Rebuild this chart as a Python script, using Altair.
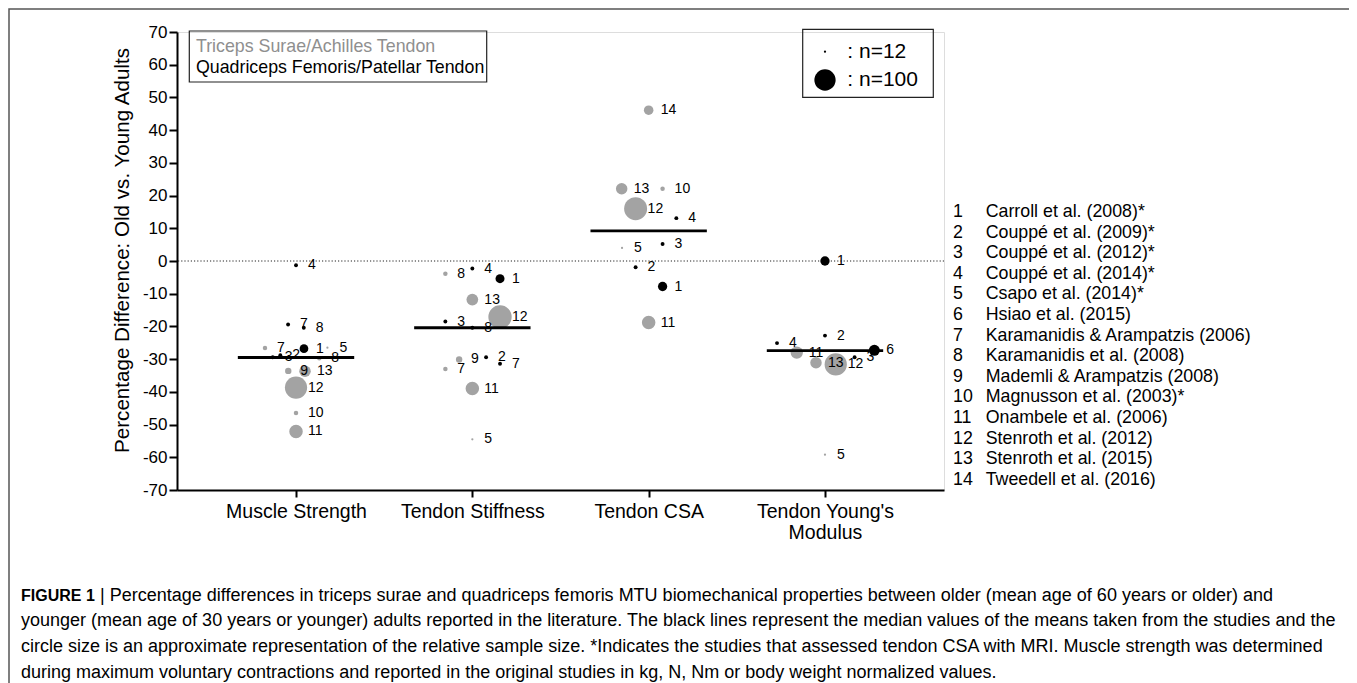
import json
import altair as alt
import pandas as pd

# ---------------- data ----------------
measures = ["Muscle Strength", "Tendon Stiffness", "Tendon CSA", "Tendon Young's Modulus"]
axis_labels = ["Muscle Strength", "Tendon Stiffness", "Tendon CSA", ["Tendon Young's", "Modulus"]]

studies = [
    "Carroll et al. (2008)*", "Couppé et al. (2009)*", "Couppé et al. (2012)*",
    "Couppé et al. (2014)*", "Csapo et al. (2014)*", "Hsiao et al. (2015)",
    "Karamanidis & Arampatzis (2006)", "Karamanidis et al. (2008)",
    "Mademli & Arampatzis (2008)", "Magnusson et al. (2003)*", "Onambele et al. (2006)",
    "Stenroth et al. (2012)", "Stenroth et al. (2015)", "Tweedell et al. (2016)",
]

T = "Triceps Surae/Achilles Tendon"
Q = "Quadriceps Femoris/Patellar Tendon"
groups = [T, Q]

# Muscle strength
ms_study = [4, 7, 8, 7, 1, 5, 3, 2, 8, 9, 13, 12, 10, 11]
ms_group = [Q, Q, Q, T, Q, T, Q, Q, T, T, T, T, T, T]
ms_diff = [-1.3, -19.4, -20.4, -26.6, -26.8, -26.5, -29.4, -28.8, -29.7, -33.6, -33.7, -38.7, -46.5, -52.1]
ms_jitter = [0, -0.045, 0.044, -0.176, 0.045, 0.178, -0.132, -0.089, 0.132, -0.044, 0.051, 0, 0, 0]
ms_n = [14, 14, 14, 15, 26, 12, 14, 14, 15, 19, 37, 108, 15, 47]

# Tendon stiffness
ts_study = [8, 4, 1, 13, 12, 3, 8, 9, 2, 7, 7, 11, 5]
ts_group = [T, Q, Q, T, T, Q, Q, T, Q, Q, T, T, T]
ts_diff = [-3.9, -2.3, -5.4, -11.8, -17.1, -18.5, -20.4, -30.1, -29.4, -31.4, -33.0, -39.0, -54.5]
ts_jitter = [-0.153, 0, 0.157, 0, 0.157, -0.153, 0, -0.075, 0.078, 0.157, -0.153, 0, 0]
ts_n = [15, 14, 27, 38, 118, 14, 14, 19, 14, 14, 15, 47, 12]

# Tendon CSA
csa_study = [14, 13, 10, 12, 4, 5, 3, 2, 1, 11]
csa_group = [T, T, T, T, Q, T, Q, Q, Q, T]
csa_diff = [46.1, 22.1, 22.1, 16.0, 13.1, 4.0, 5.2, -1.9, -7.8, -18.8]
csa_jitter = [0, -0.153, 0.079, -0.074, 0.157, -0.151, 0.079, -0.074, 0.079, 0]
csa_n = [29, 37, 15, 115, 14, 12, 14, 14, 28, 47]

# Tendon Young's modulus
ym_study = [1, 2, 4, 11, 13, 12, 3, 6, 5]
ym_group = [Q, Q, Q, T, T, T, Q, Q, T]
ym_diff = [0.0, -22.8, -25.1, -28.0, -31.1, -31.6, -29.4, -27.3, -59.2]
ym_jitter = [0, 0, -0.272, -0.16, -0.051, 0.061, 0.168, 0.28, 0]
ym_n = [28, 14, 14, 41, 37, 108, 14, 35, 12]

medians = [-29.5, -20.4, 9.2, -27.4]
reference = [0]

legend_n = [12, 100]
legend_text = [": n=12", ": n=100"]

caption_bold = "FIGURE 1"
caption_lines = [
    "| Percentage differences in triceps surae and quadriceps femoris MTU biomechanical properties between older (mean age of 60 years or older) and",
    "younger (mean age of 30 years or younger) adults reported in the literature. The black lines represent the median values of the means taken from the studies and the",
    "circle size is an approximate representation of the relative sample size. *Indicates the studies that assessed tendon CSA with MRI. Muscle strength was determined",
    "during maximum voluntary contractions and reported in the original studies in kg, N, Nm or body weight normalized values.",
]

# ---------------- tables ----------------
rows = []
for mi, (st, gr, df_, jt, nn) in enumerate([
    (ms_study, ms_group, ms_diff, ms_jitter, ms_n),
    (ts_study, ts_group, ts_diff, ts_jitter, ts_n),
    (csa_study, csa_group, csa_diff, csa_jitter, csa_n),
    (ym_study, ym_group, ym_diff, ym_jitter, ym_n),
]):
    for s, g, d, j, n in zip(st, gr, df_, jt, nn):
        rows.append({"measure": measures[mi], "pos": mi + 1 + j, "diff": d,
                     "study": str(s), "group": g, "n": n})
points = pd.DataFrame(rows)
med_df = pd.DataFrame({"idx": [1, 2, 3, 4], "median": medians})
ref_df = pd.DataFrame({"y": reference})
one = pd.DataFrame({"k": [0]})

FONT = "Liberation Sans"
GRAY = "#a3a3a3"

label_expr = "[" + ",".join(json.dumps(l) for l in axis_labels) + "][datum.value - 1]"

xscale = alt.Scale(domain=[0.325, 4.675], nice=False, zero=False)
yscale = alt.Scale(domain=[-70, 70], nice=False, zero=False)
sscale = alt.Scale(domain=[12, 100], range=[5, 452], zero=False)
cscale = alt.Scale(domain=groups, range=[GRAY, "black"])

x_axis = alt.Axis(values=[1, 2, 3, 4], labelExpr=label_expr, title=None, grid=False,
                  domainColor="black", domainWidth=2, tickColor="black", tickWidth=2,
                  tickSize=7, labelFontSize=19.5, labelColor="black", labelPadding=5,
                  labelLineHeight=21, labelFont=FONT)
y_axis = alt.Axis(values=list(range(-70, 71, 10)), tickCount=20, grid=False, labelOverlap=False,
                  labelExpr="'' + datum.value",
                  title="Percentage Difference: Old vs. Young Adults",
                  titleFontSize=20.6, titleFontWeight="normal", titleColor="black", titleFont=FONT,
                  titleX=-55, titleY=218, titleAngle=-90, titleAlign="center", titleBaseline="middle",
                  domainColor="black", domainWidth=2, tickColor="black", tickWidth=2,
                  tickSize=8, labelFontSize=17, labelColor="black", labelPadding=2, labelFont=FONT)

base = alt.Chart(points)

zero_line = alt.Chart(ref_df).mark_rule(color="#222222", strokeWidth=1, strokeDash=[1.2, 2]).encode(
    y=alt.Y("y:Q", scale=yscale, axis=y_axis)
)

dots = base.mark_circle(opacity=1, stroke=None).encode(
    x=alt.X("pos:Q", scale=xscale, axis=x_axis),
    y=alt.Y("diff:Q", scale=yscale, axis=y_axis),
    size=alt.Size("n:Q", scale=sscale, legend=None),
    color=alt.Color("group:N", scale=cscale, legend=None),
)

med_lines = alt.Chart(med_df).transform_calculate(
    x1="datum.idx - 0.33", x2="datum.idx + 0.33"
).mark_rule(color="black", strokeWidth=2.8).encode(
    x=alt.X("x1:Q", scale=xscale), x2="x2:Q", y=alt.Y("median:Q", scale=yscale)
)

labels = base.mark_text(align="left", baseline="middle", dx=12, fontSize=14, font=FONT,
                        color="black").encode(
    x=alt.X("pos:Q", scale=xscale), y=alt.Y("diff:Q", scale=yscale), text="study:N"
)

# ---- legend boxes ----
box1 = alt.Chart(one).mark_rect(fill=None, stroke="#222222", strokeWidth=1.2).encode(
    x=alt.value(12.3), x2=alt.value(309.7), y=alt.value(-1), y2=alt.value(50))
box1_t1 = alt.Chart(one).mark_text(align="left", baseline="middle", fontSize=17.8, font=FONT,
                                   color="#8f8f8f", text=T).encode(x=alt.value(19), y=alt.value(14.7))
box1_t2 = alt.Chart(one).mark_text(align="left", baseline="middle", fontSize=17.8, font=FONT,
                                   color="black", text=Q).encode(x=alt.value(19), y=alt.value(36))

box2 = alt.Chart(one).mark_rect(fill=None, stroke="#222222", strokeWidth=1.2).encode(
    x=alt.value(625.7), x2=alt.value(756.3), y=alt.value(-2.7), y2=alt.value(65.3))
leg_df = pd.DataFrame({"n": legend_n, "t": legend_text, "py": [19.7, 48.0]})
leg_dots = alt.Chart(leg_df).mark_circle(opacity=1, color="black").encode(
    x=alt.value(648), y=alt.Y("py:Q", scale=None), size=alt.Size("n:Q", scale=sscale, legend=None))
leg_text = alt.Chart(leg_df).mark_text(align="left", baseline="middle", fontSize=21, font=FONT,
                                       color="black").encode(
    x=alt.value(670.3), y=alt.Y("py:Q", scale=None), text="t:N")

# ---- study list ----
list_nums = alt.Chart(one).mark_text(align="left", baseline="top", fontSize=17.8, font=FONT,
                                     lineHeight=20.6, color="black",
                                     text=[str(i + 1) for i in range(len(studies))]).encode(
    x=alt.value(776), y=alt.value(171.1))
list_names = alt.Chart(one).mark_text(align="left", baseline="top", fontSize=17.8, font=FONT,
                                      lineHeight=20.6, color="black", text=studies).encode(
    x=alt.value(808.7), y=alt.value(171.1))

# ---- caption ----
cap_bold = alt.Chart(one).mark_text(align="left", baseline="top", fontSize=16, font=FONT,
                                    fontWeight="bold", color="black", text=caption_bold).encode(
    x=alt.value(-156), y=alt.value(555.5))
cap_l1 = alt.Chart(one).mark_text(align="left", baseline="top", fontSize=18, font=FONT,
                                  color="black", text=caption_lines[0]).encode(
    x=alt.value(-77), y=alt.value(554.5))
cap_rest = alt.Chart(one).mark_text(align="left", baseline="top", fontSize=18, font=FONT,
                                    lineHeight=25.7, color="black", text=caption_lines[1:]).encode(
    x=alt.value(-156), y=alt.value(580.2))

frame = alt.Chart(one).mark_rect(fill=None, stroke="#555555", strokeWidth=1.5).encode(
    x=alt.value(-168), x2=alt.value(1178), y=alt.value(-23), y2=alt.value(720))

chart = alt.layer(
    frame, zero_line, dots, med_lines, labels,
    box1, box1_t1, box1_t2, box2, leg_dots, leg_text,
    list_nums, list_names, cap_bold, cap_l1, cap_rest,
).properties(
    width=767, height=458,
    padding={"left": 169, "top": 24, "right": 405, "bottom": 200},
    autosize=alt.AutoSizeParams(type="none"),
).configure_view(strokeWidth=0).configure(font=FONT)

chart.save("out.html", embed_options={"renderer": "svg", "actions": False})
